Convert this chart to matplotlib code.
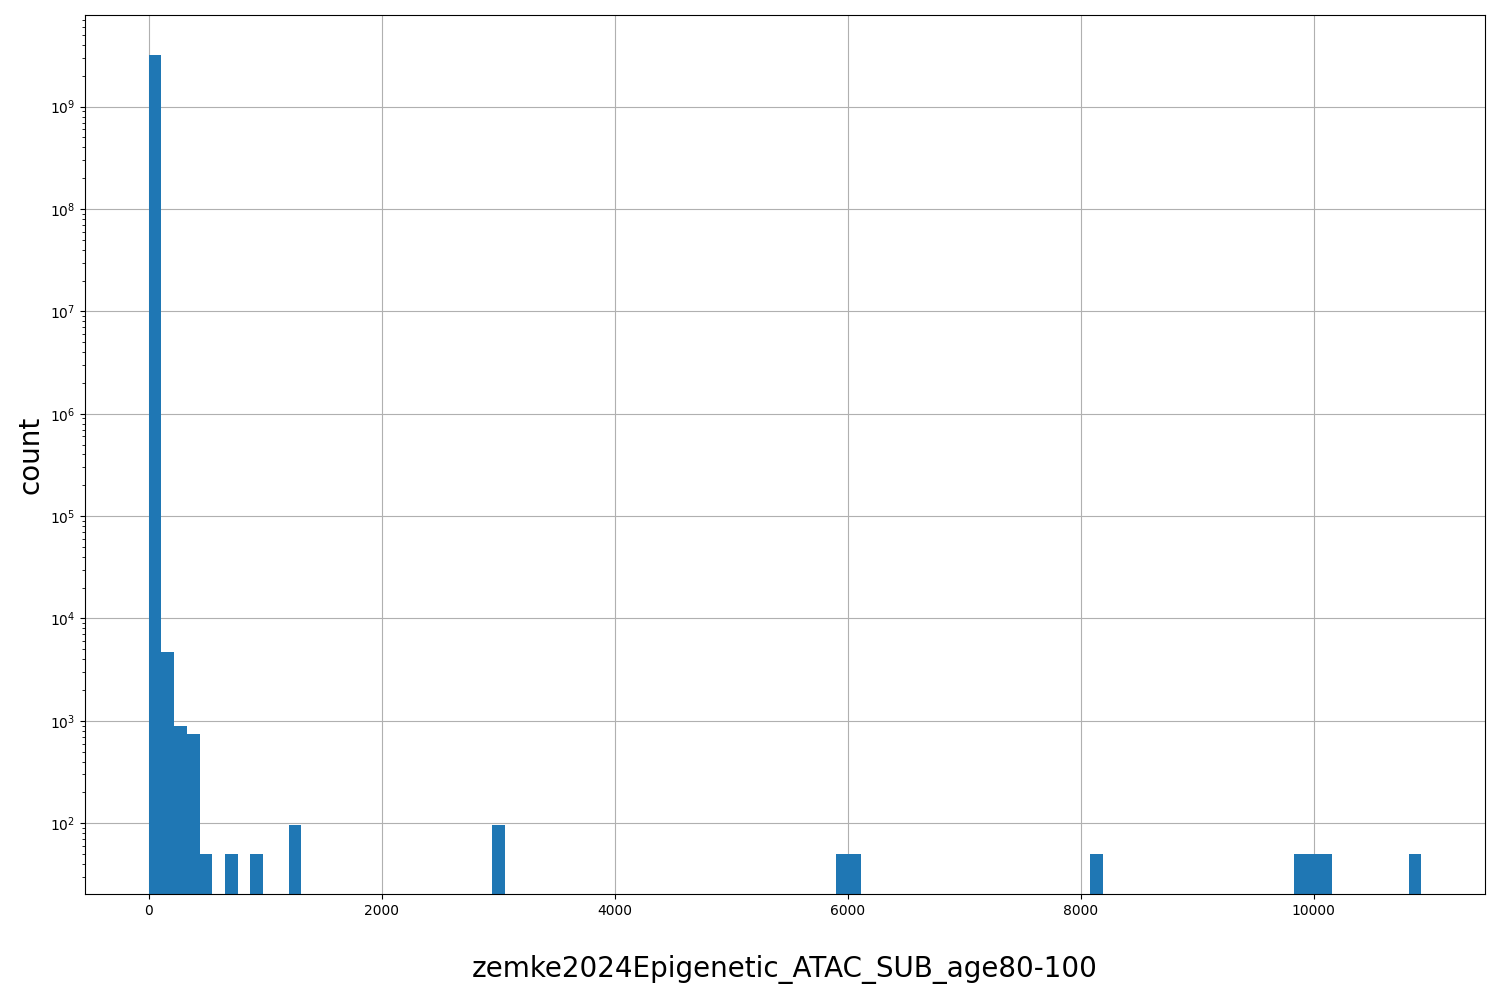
import numpy as np
import matplotlib
matplotlib.use("Agg")
import matplotlib.pyplot as plt

# histogram: 100 equal bins from 0 to ~10925
x_min = 0.0
x_max = 10925.0
n_bins = 100
# (bin index, count) for the non-empty bins
bin_index = [0, 1, 2, 3, 4, 6, 8, 11, 27, 54, 55, 74, 90, 91, 92, 99]
bin_count = [3.2e9, 4750, 900, 750, 50, 50, 50, 97, 97, 50, 50, 50, 50, 50, 50, 50]

xlabel = "zemke2024Epigenetic_ATAC_SUB_age80-100"
ylabel = "count"

edges = np.linspace(x_min, x_max, n_bins + 1)
centers = (edges[:-1] + edges[1:]) / 2
weights = np.zeros(n_bins)
weights[bin_index] = bin_count

fig, ax = plt.subplots(figsize=(15, 10), dpi=100)
ax.hist(centers, bins=edges, weights=weights, color="#1f77b4", log=True)
ax.grid(True)
ax.set_axisbelow(True)
ax.set_xlabel(xlabel, fontsize=20, labelpad=27)
ax.set_ylabel(ylabel, fontsize=20)
fig.subplots_adjust(left=0.0567, right=0.99, top=0.985, bottom=0.106)
fig.savefig("out.png")
